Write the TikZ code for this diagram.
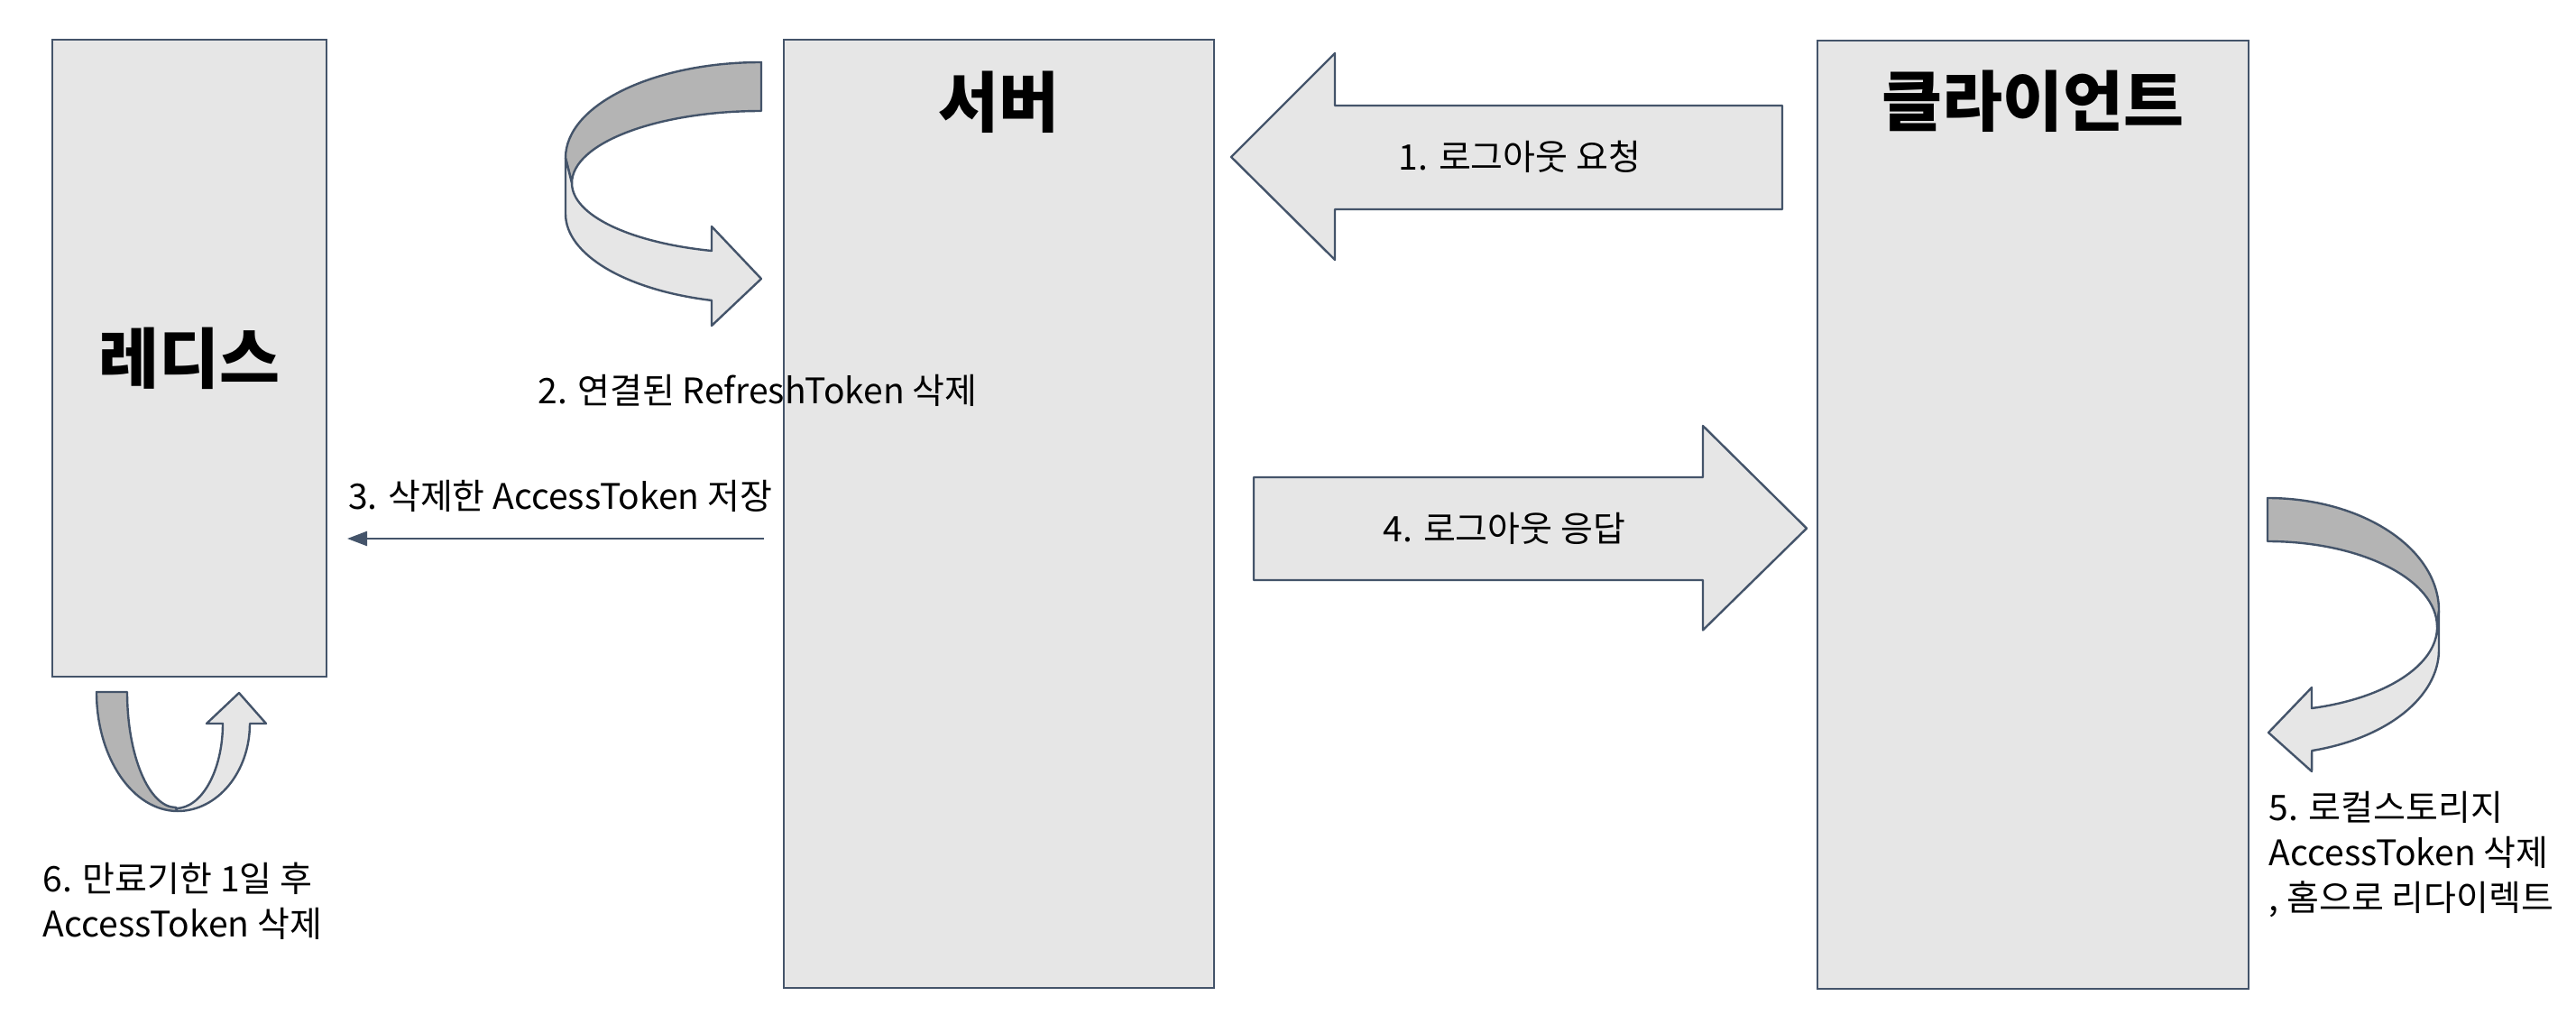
\documentclass[tikz,border=0pt]{standalone}
\usepackage{fontspec}
\setmainfont{Noto Sans CJK KR}
\usepackage{tikz}
\definecolor{cc}{RGB}{230, 230, 230}
\definecolor{dd}{RGB}{180, 180, 180}
\definecolor{ln}{RGB}{68, 84, 106}
\usetikzlibrary{arrows.meta}

\begin{document}
\begin{tikzpicture}[box/.style={rectangle, fill=cc, line width=0.6pt, draw=ln, inner sep=0pt}, title/.style={font=\fontsize{18.2}{21}\selectfont\bfseries}, lbl/.style={font=\fontsize{9.75}{12.5}\selectfont, inner sep=0pt}, band/.style={line width=0.6pt, draw=ln, line join=round}]
\useasboundingbox (0pt, 0pt) rectangle (714pt, -283.5pt);
\node (redis) [box, minimum width=76pt, minimum height=176.5pt, title] at (52.5pt, -99.25pt) {레디스};
\node (server) [box, minimum width=119.25pt, minimum height=262.75pt] at (276.875pt, -142.375pt) {};
\node (servertitle) [title] at ([yshift=-17.5pt]server.north) {서버};
\node (client) [box, minimum width=119.5pt, minimum height=262.75pt] at (563.5pt, -142.6pt) {};
\node (clienttitle) [title] at ([yshift=-17.25pt]client.north) {클라이언트};
\draw [band, fill=cc] (341.25pt, -43.5pt) -- (370pt, -14.75pt) -- (370pt, -29.25pt) -- (494pt, -29.25pt) -- (494pt, -58pt) -- (370pt, -58pt) -- (370pt, -72pt) -- cycle;
\node (req) [lbl] at (421.25pt, -43.5pt) {1. 로그아웃 요청};
\draw [band, fill=cc] (347.5pt, -132.25pt) -- (472pt, -132.25pt) -- (472pt, -118pt) -- (500.75pt, -146.4pt) -- (472pt, -174.6pt) -- (472pt, -160.75pt) -- (347.5pt, -160.75pt) -- cycle;
\node (resp) [lbl] at (417pt, -146.5pt) {4. 로그아웃 응답};
\draw [band, fill=dd] (211pt, -17.25pt) arc [start angle=90, end angle=180, x radius=54.25pt, y radius=26.5pt] -- (158.5pt, -50.75pt) arc [start angle=180, end angle=90, x radius=52.5pt, y radius=20pt] -- cycle;
\draw [band, fill=cc] (156.75pt, -43.75pt) -- (156.75pt, -59.25pt) arc [start angle=180, end angle=255.3, x radius=54.25pt, y radius=24.8pt] -- (197.25pt, -90.25pt) -- (211pt, -77.25pt) -- (197.25pt, -62.75pt) -- (197.25pt, -69.5pt) arc [start angle=254.8, end angle=180, x radius=52.5pt, y radius=19.4pt] -- cycle;
\node (del) [lbl] at (210pt, -108.25pt) {2. 연결된 RefreshToken 삭제};
\coordinate (from3) at (211.75pt, -149.25pt);
\coordinate (to3) at (96.25pt, -149.25pt);
\draw [line width=0.6pt, color=ln, -{Triangle[length=5.5pt, width=4pt]}] (from3) -- (to3);
\node (save) [lbl] at (155.25pt, -137.4pt) {3. 삭제한 AccessToken 저장};
\draw [band, fill=dd] (628.5pt, -138pt) arc [start angle=90, end angle=0, x radius=47.5pt, y radius=31.25pt] -- (675.5pt, -173.75pt) arc [start angle=0, end angle=90, x radius=47pt, y radius=23.75pt] -- cycle;
\draw [band, fill=cc] (676pt, -169.25pt) -- (676pt, -180pt) arc [start angle=0, end angle=-75, x radius=47.5pt, y radius=29pt] -- (640.75pt, -213.75pt) -- (628.75pt, -203pt) -- (640.75pt, -190.5pt) -- (640.75pt, -196.25pt) arc [start angle=-74.9, end angle=0, x radius=47pt, y radius=23.3pt] -- cycle;
\node (local) [lbl, align=left, anchor=west] at (628.75pt, -236.75pt) {5. 로컬스토리지\\AccessToken 삭제\\, 홈으로 리다이렉트};
\draw [band, fill=dd] (26.75pt, -191.75pt) -- (35.25pt, -191.75pt) arc [start angle=180, end angle=270, x radius=13.5pt, y radius=32pt] -- (49.25pt, -224.75pt) arc [start angle=270, end angle=180, x radius=22.5pt, y radius=33pt] -- cycle;
\draw [band, fill=cc] (49.25pt, -224.75pt) arc [start angle=270, end angle=360, x radius=20pt, y radius=24.25pt] -- (73.75pt, -200.5pt) -- (66.25pt, -192pt) -- (57.25pt, -200.5pt) -- (61.75pt, -200.5pt) arc [start angle=0, end angle=-90, x radius=13pt, y radius=23.5pt] -- cycle;
\node (expire) [lbl, align=left, anchor=west] at (11.75pt, -249.75pt) {6. 만료기한 1일 후\\AccessToken 삭제};
\end{tikzpicture}
\end{document}
